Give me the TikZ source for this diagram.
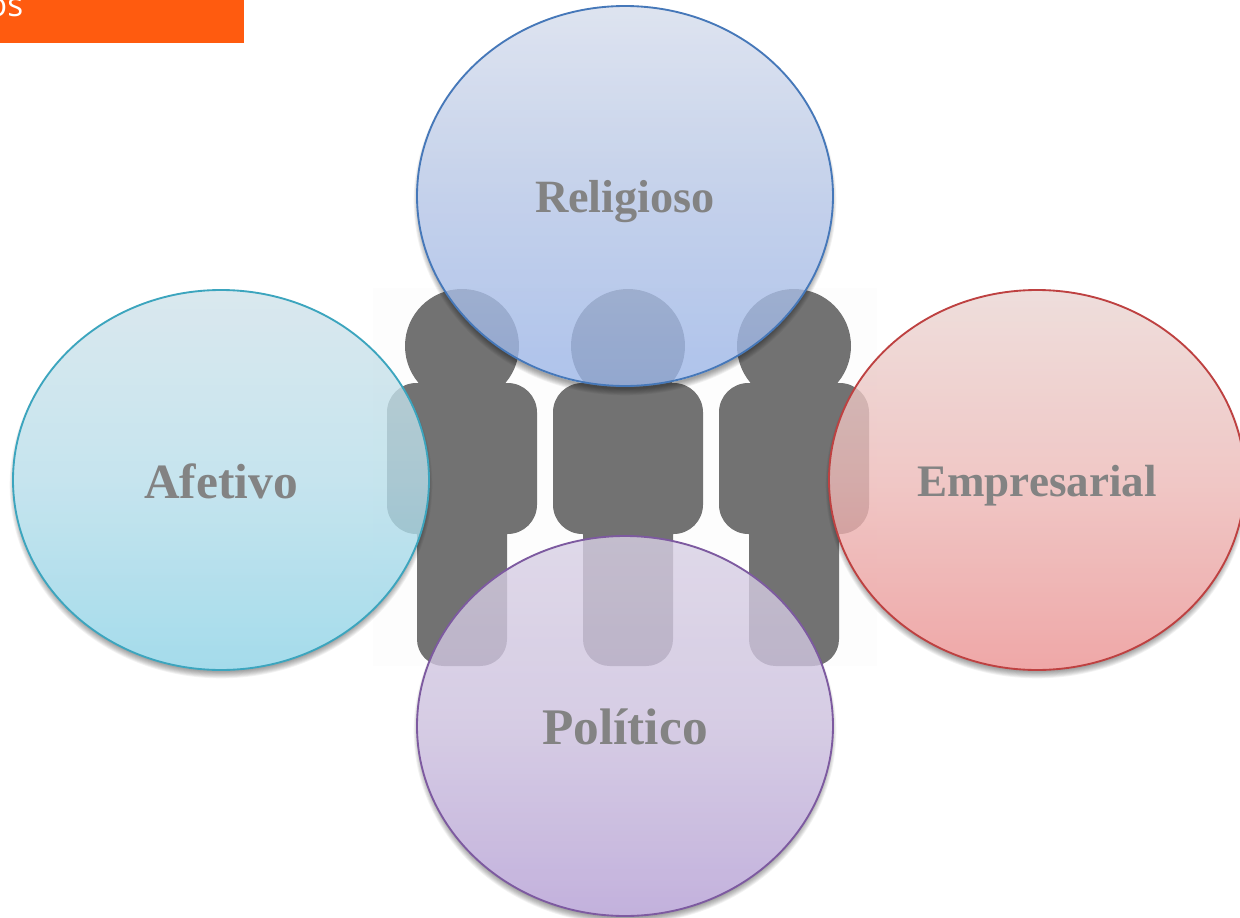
\documentclass[tikz,border=0pt]{standalone}
\usepackage{fontspec}
\setmainfont{Liberation Serif}
\newfontfamily\bannerfont{Open Sans}
\usetikzlibrary{shapes.geometric}
\definecolor{orangebar}{RGB}{255,91,15}
\definecolor{persongray}{RGB}{114,114,114}
\definecolor{labelgray}{RGB}{131,131,131}
\definecolor{relTop}{RGB}{214,221,236}\definecolor{relMid}{RGB}{182,198,230}\definecolor{relBot}{RGB}{155,181,231}\definecolor{relLine}{RGB}{70,120,185}
\definecolor{afeTop}{RGB}{209,227,234}\definecolor{afeMid}{RGB}{184,222,234}\definecolor{afeBot}{RGB}{142,211,231}\definecolor{afeLine}{RGB}{60,165,190}
\definecolor{empTop}{RGB}{234,214,211}\definecolor{empMid}{RGB}{237,186,184}\definecolor{empBot}{RGB}{235,146,146}\definecolor{empLine}{RGB}{190,65,65}
\definecolor{polTop}{RGB}{216,208,228}\definecolor{polMid}{RGB}{204,192,222}\definecolor{polBot}{RGB}{180,158,212}\definecolor{polLine}{RGB}{125,90,160}
\tikzset{
  personpart/.style={fill=persongray},
  bubble/.style={ellipse,inner sep=0pt,minimum width=312pt,minimum height=285pt,
    fill opacity=0.8,text opacity=1,text=labelgray,font=\bfseries,line width=1.4pt},
}
% bubble's soft shadow, only outside of the bubble
\newcommand{\softshadow}[4]{%
  \begin{scope}[even odd rule]
    \clip (-50,-50) rectangle (1300,970) (#1,#2) ellipse [x radius=#3,y radius=#4];
    \foreach \g in {0,1,2,3,4,5,6,7}{
      \fill[black,opacity=0.05,nonzero rule] (#1,#2+5) ellipse [x radius=#3+\g*0.9-3,y radius=#4+\g*0.9-3];
    }
  \end{scope}}
\newcommand{\bubbletext}[3]{\raisebox{#1}[0pt][0pt]{\fontsize{#2}{#2}\selectfont #3}}
\begin{document}
\begin{tikzpicture}[x=0.75pt,y=-0.75pt]
\useasboundingbox (0,0) rectangle (1240,918);
\clip (0,0) rectangle (1240,918);
\fill[white] (0,0) rectangle (1240,918);
% banner
\fill[orangebar] (0,0) rectangle (244,43);
\node[anchor=base east,inner sep=0pt,text=white,font=\bannerfont\fontsize{25}{28}\selectfont] (banner) at (23.5,16.5) {os};
% people
\fill[black!0.8] (373,288) rectangle (877,666);
\foreach \dx in {0,166,332}{
  \fill[personpart] (462+\dx,346) circle [radius=57];
  \fill[personpart,rounded corners=22pt] (387+\dx,383) rectangle (537+\dx,534);
  \fill[personpart,rounded corners=20pt] (417+\dx,500) rectangle (507+\dx,666);
}
% shadows
\softshadow{625}{196}{208}{191}
\softshadow{221}{480}{208}{190}
\softshadow{1037}{480}{208}{190}
\softshadow{625}{726}{208}{190}
% bubbles
\node[bubble,draw=relLine,top color=relTop,bottom color=relBot,middle color=relMid] (religioso) at (625,196) {\bubbletext{-12pt}{34.7}{Religioso}};
\node[bubble,draw=afeLine,top color=afeTop,bottom color=afeBot,middle color=afeMid] (afetivo) at (221,480) {\bubbletext{-13.5pt}{37}{Afetivo}};
\node[bubble,draw=empLine,top color=empTop,bottom color=empBot,middle color=empMid] (empresarial) at (1037,480) {\bubbletext{-12pt}{33.8}{Empresarial}};
\node[bubble,draw=polLine,top color=polTop,bottom color=polBot,middle color=polMid] (politico) at (625,726) {\bubbletext{-13.5pt}{38.5}{Político}};
\end{tikzpicture}
\end{document}
